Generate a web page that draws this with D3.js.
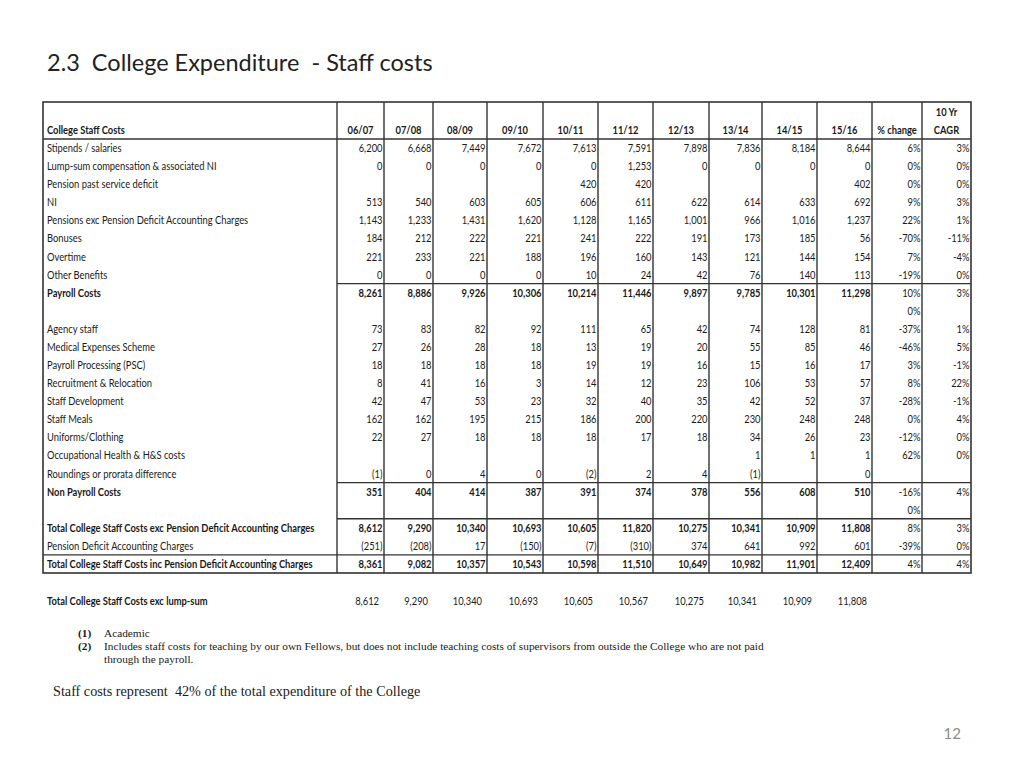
<!DOCTYPE html>
<html><head><meta charset="utf-8">
<script src="https://cdn.jsdelivr.net/npm/d3@7/dist/d3.min.js"></script>
<style>body{margin:0;background:#fff;}svg{display:block;}svg text{white-space:pre;}</style>
</head><body>
<script>
// ---------- DATA ----------
const title = "2.3  College Expenditure  - Staff costs";
const years = ["06/07","07/08","08/09","09/10","10/11","11/12","12/13","13/14","14/15","15/16"];
const rowLabels = [
  "Stipends / salaries","Lump-sum compensation & associated NI","Pension past service deficit","NI",
  "Pensions exc Pension Deficit Accounting Charges","Bonuses","Overtime","Other Benefits","Payroll Costs","",
  "Agency staff","Medical Expenses Scheme","Payroll Processing (PSC)","Recruitment & Relocation",
  "Staff Development","Staff Meals","Uniforms/Clothing","Occupational Health & H&S costs",
  "Roundings or prorata difference","Non Payroll Costs","",
  "Total College Staff Costs exc Pension Deficit Accounting Charges","Pension Deficit Accounting Charges",
  "Total College Staff Costs inc Pension Deficit Accounting Charges"];
const boldRows = [8,19,21,23];
const stipends     = [6200,6668,7449,7672,7613,7591,7898,7836,8184,8644];
const lumpSum      = [0,0,0,0,0,1253,0,0,0,0];
const pensionPast  = [null,null,null,null,420,420,null,null,null,402];
const ni           = [513,540,603,605,606,611,622,614,633,692];
const pensionsExc  = [1143,1233,1431,1620,1128,1165,1001,966,1016,1237];
const bonuses      = [184,212,222,221,241,222,191,173,185,56];
const overtime     = [221,233,221,188,196,160,143,121,144,154];
const otherBen     = [0,0,0,0,10,24,42,76,140,113];
const payroll      = [8261,8886,9926,10306,10214,11446,9897,9785,10301,11298];
const blankRow     = [null,null,null,null,null,null,null,null,null,null];
const agency       = [73,83,82,92,111,65,42,74,128,81];
const medical      = [27,26,28,18,13,19,20,55,85,46];
const psc          = [18,18,18,18,19,19,16,15,16,17];
const recruitment  = [8,41,16,3,14,12,23,106,53,57];
const staffDev     = [42,47,53,23,32,40,35,42,52,37];
const meals        = [162,162,195,215,186,200,220,230,248,248];
const uniforms     = [22,27,18,18,18,17,18,34,26,23];
const occHealth    = [null,null,null,null,null,null,null,1,1,1];
const roundings    = [-1,0,4,0,-2,2,4,-1,null,0];
const nonPayroll   = [351,404,414,387,391,374,378,556,608,510];
const totalExc     = [8612,9290,10340,10693,10605,11820,10275,10341,10909,11808];
const pensionDef   = [-251,-208,17,-150,-7,-310,374,641,992,601];
const totalInc     = [8361,9082,10357,10543,10598,11510,10649,10982,11901,12409];
const rowValues = [stipends,lumpSum,pensionPast,ni,pensionsExc,bonuses,overtime,otherBen,payroll,blankRow,
  agency,medical,psc,recruitment,staffDev,meals,uniforms,occHealth,roundings,nonPayroll,blankRow,
  totalExc,pensionDef,totalInc];
const pctChange = [6,0,0,9,22,-70,7,-19,10,0,-37,-46,3,8,-28,0,-12,62,null,-16,0,8,-39,4];
const cagr      = [3,0,0,3,1,-11,-4,0,3,null,1,5,-1,22,-1,4,0,0,null,4,null,3,0,4];
const footerLabel = "Total College Staff Costs exc lump-sum";
const footerValues = [8612,9290,10340,10693,10605,10567,10275,10341,10909,11808];
const notes = [["(1)","Academic"],["(2)","Includes staff costs for teaching by our own Fellows, but does not include teaching costs of supervisors from outside the College who are not paid"],["","through the payroll."]];
const summary = "Staff costs represent  42% of the total expenditure of the College";
const pageNo = "12";

// ---------- LAYOUT ----------
const W=1024,H=768;
const tableLeft=43, labelRight=337, tableRight=971, headTop=102, headBottom=139, bodyBottom=573;
const colWidths=[47,49,54,56,55,55,56,53,55,55,50,49];
const colKeys = years.concat(["%change","CAGR"]);
const edges=[labelRight]; colWidths.forEach(w=>edges.push(edges[edges.length-1]+w));
const xRight = d3.scaleOrdinal().domain(colKeys).range(edges.slice(1));
const xLeft  = d3.scaleOrdinal().domain(colKeys).range(edges.slice(0,-1));
const y = d3.scaleBand().domain(d3.range(rowLabels.length)).range([headBottom,bodyBottom]);
const FONT = "Lato, 'Open Sans', sans-serif";
const SX = 0.78; // condense
const ink="#1a1a1a", lineCol="#333";

const svg=d3.select("body").append("svg").attr("width",W).attr("height",H);

svg.append("text").attr("x",47).attr("y",71).attr("font-family",FONT).attr("font-size",23.5)
  .attr("fill","#222").text(title);

function txt(g,x,yy,s,opts={}){
  const t=g.append("text").attr("transform",`translate(${x},${yy}) scale(${SX},1)`)
    .attr("font-family",FONT).attr("font-size",opts.size||12).attr("fill",ink)
    .attr("text-anchor",opts.anchor||"start").attr("font-weight",opts.bold?"bold":"normal").text(s);
  return t;
}
const fmtN = d3.format(",");
const fmt = v => v==null ? "" : (v<0 ? "("+fmtN(-v)+")" : fmtN(v));
const fmtP = v => v==null ? "" : v+"%";

const g=svg.append("g");
// header
txt(g,47,134,"College Staff Costs",{bold:true});
years.forEach(yr=>txt(g,(xLeft(yr)+xRight(yr))/2,134,yr,{bold:true,anchor:"middle"}));
txt(g,(xLeft("%change")+xRight("%change"))/2,134,"% change",{bold:true,anchor:"middle"});
txt(g,(xLeft("CAGR")+xRight("CAGR"))/2,116,"10 Yr",{bold:true,anchor:"middle"});
txt(g,(xLeft("CAGR")+xRight("CAGR"))/2,134,"CAGR",{bold:true,anchor:"middle"});

// body
rowLabels.forEach((lab,i)=>{
  const by = y(i)+y.bandwidth()/2+4;
  const bold = boldRows.includes(i);
  if(lab) txt(g,47,by,lab,{bold});
  rowValues[i].forEach((v,j)=>{ if(v!=null) txt(g,xRight(years[j])-1.5,by,fmt(v),{bold,anchor:"end"}); });
  if(pctChange[i]!=null) txt(g,xRight("%change")-1.5,by,fmtP(pctChange[i]),{anchor:"end"});
  if(cagr[i]!=null) txt(g,xRight("CAGR")-1.5,by,fmtP(cagr[i]),{anchor:"end"});
});

// lines
const L=svg.append("g").attr("stroke",lineCol).attr("fill","none");
L.append("rect").attr("x",tableLeft).attr("y",headTop).attr("width",tableRight-tableLeft).attr("height",bodyBottom-headTop).attr("stroke-width",1.6);
edges.slice(0,-1).forEach(x=>L.append("line").attr("x1",x).attr("x2",x).attr("y1",headTop).attr("y2",bodyBottom).attr("stroke-width",1.4));
L.append("line").attr("x1",tableLeft).attr("x2",tableRight).attr("y1",headBottom).attr("y2",headBottom).attr("stroke-width",1.4);
[8,19,21].forEach(i=>L.append("line").attr("x1",labelRight).attr("x2",tableRight).attr("y1",y(i)).attr("y2",y(i)).attr("stroke-width",1.4));
L.append("line").attr("x1",tableLeft).attr("x2",tableRight).attr("y1",y(23)).attr("y2",y(23)).attr("stroke-width",1.4);

// footer row
txt(g,47,605,footerLabel,{bold:true});
footerValues.forEach((v,j)=>txt(g,xRight(years[j])-5,605,fmt(v),{anchor:"end"}));

// notes
const SERIF="'Liberation Serif','DejaVu Serif',serif";
notes.forEach((n,i)=>{
  const yy=637+i*13;
  if(n[0]) svg.append("text").attr("x",78).attr("y",yy).attr("font-family",SERIF).attr("font-size",11.3).attr("font-weight","bold").attr("fill",ink).text(n[0]);
  svg.append("text").attr("x",104).attr("y",yy).attr("font-family",SERIF).attr("font-size",11.3).attr("fill",ink).text(n[1]);
});
svg.append("text").attr("x",53).attr("y",696).attr("font-family",SERIF).attr("font-size",14.2).attr("fill",ink).text(summary);
svg.append("text").attr("x",961).attr("y",739).attr("text-anchor","end").attr("font-family",FONT).attr("font-size",15).attr("fill","#8c8c8c").text(pageNo);
</script>
</body></html>
